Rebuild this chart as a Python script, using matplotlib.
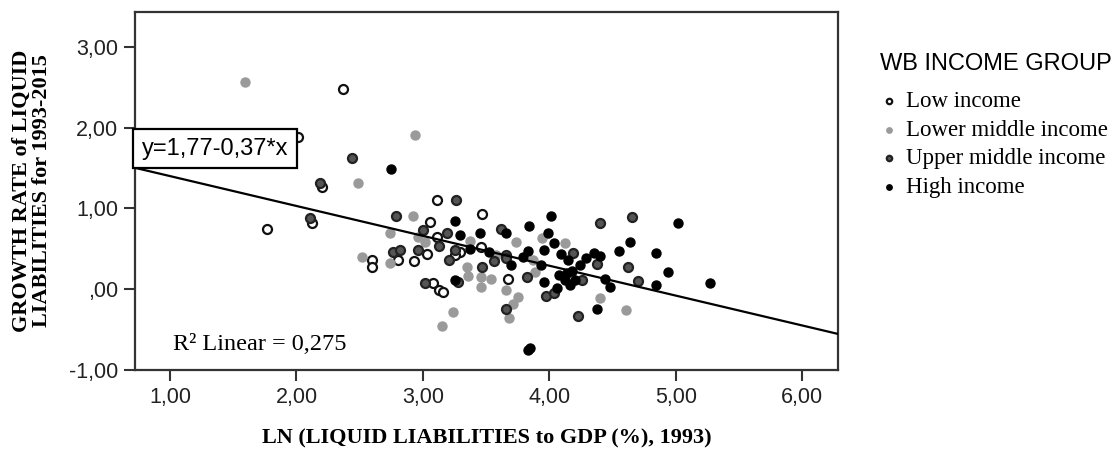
import matplotlib
matplotlib.use("Agg")
import matplotlib.pyplot as plt
from matplotlib.ticker import FuncFormatter, FixedLocator
import numpy as np

# ---- data: (ln liquid liabilities 1993, growth rate 1993-2015) by WB income group ----
low_x = [2.37, 2.01, 1.77, 2.20, 2.12, 2.60, 2.60, 2.80, 2.93, 3.11, 3.06, 3.11,
         3.03, 3.29, 3.46, 3.47, 3.67, 3.25, 3.08, 3.13, 3.16]
low_y = [2.48, 1.88, 0.75, 1.26, 0.82, 0.36, 0.28, 0.36, 0.35, 1.10, 0.83, 0.64,
         0.44, 0.46, 0.52, 0.93, 0.13, 0.42, 0.07, -0.01, -0.04]

lower_mid_x = [1.59, 2.94, 2.49, 2.52, 2.74, 2.74, 2.92, 2.96, 3.37, 3.74, 3.94, 4.12,
               3.87, 3.89, 3.54, 3.46, 3.46, 3.36, 3.35, 3.66, 3.75, 3.71, 3.68, 3.24,
               3.15, 4.40, 4.61, 3.02, 3.58]
lower_mid_y = [2.56, 1.91, 1.32, 0.40, 0.32, 0.70, 0.91, 0.65, 0.60, 0.58, 0.63, 0.57,
               0.36, 0.21, 0.12, 0.15, 0.03, 0.16, 0.27, -0.01, -0.10, -0.18, -0.36, -0.28,
               -0.46, -0.11, -0.26, 0.58, 0.42]

upper_mid_x = [2.44, 2.19, 2.11, 2.79, 2.76, 2.82, 3.00, 3.19, 3.26, 3.62, 3.13, 2.96,
               3.25, 3.56, 3.66, 3.66, 4.19, 4.38, 4.40, 4.65, 4.62, 4.70, 4.26, 4.23,
               3.66, 3.97, 4.04, 3.82, 3.47, 3.28, 3.21, 3.02]
upper_mid_y = [1.62, 1.31, 0.88, 0.90, 0.46, 0.48, 0.73, 0.70, 1.10, 0.75, 0.54, 0.48,
               0.48, 0.35, 0.42, 0.38, 0.45, 0.31, 0.82, 0.89, 0.27, 0.10, 0.11, -0.33,
               -0.24, -0.08, -0.05, 0.15, 0.27, 0.09, 0.36, 0.07]

high_x = [2.75, 3.25, 4.01, 5.02, 3.29, 3.45, 3.66, 3.84, 3.99, 4.04, 3.37, 3.52,
          3.79, 3.83, 3.96, 4.09, 4.15, 4.29, 4.35, 4.40, 4.55, 4.64, 4.84, 4.94,
          5.27, 4.84, 4.44, 4.48, 4.14, 4.08, 4.18, 4.12, 4.20, 4.16, 4.24, 4.38,
          3.83, 3.85, 3.96, 4.06, 3.93, 3.25, 3.70]
high_y = [1.49, 0.85, 0.90, 0.82, 0.67, 0.69, 0.70, 0.78, 0.70, 0.57, 0.50, 0.46,
          0.40, 0.47, 0.49, 0.43, 0.36, 0.38, 0.45, 0.41, 0.47, 0.58, 0.45, 0.21,
          0.08, 0.05, 0.13, 0.03, 0.20, 0.17, 0.23, 0.11, 0.11, 0.05, 0.30, -0.24,
          -0.75, -0.73, 0.09, 0.01, 0.30, 0.11, 0.30]

group_names = ["Low income", "Lower middle income", "Upper middle income", "High income"]

# fitted line and its fit statistic
intercept = 1.77
slope = -0.37
r_squared = 0.275

x_ticks = [1, 2, 3, 4, 5, 6]
y_ticks = [-1, 0, 1, 2, 3]
x_limits = (0.723, 6.28)
y_limits = (-1.0, 3.43)

SANS = "Liberation Sans"
SERIF = "Liberation Serif"


def comma_fmt(v, _pos=None):
    s = f"{v:.2f}".replace(".", ",")
    if s.startswith("0,"):
        s = s[1:]
    return s


fig = plt.figure(figsize=(11.19, 4.5), dpi=100)
ax = fig.add_axes([0.1206, 0.178, 0.628, 0.795])

styles = [
    dict(facecolor="white", edgecolor="#111111", linewidths=1.6),
    dict(facecolor="#9a9a9a", edgecolor="#9a9a9a", linewidths=1.0),
    dict(facecolor="#555555", edgecolor="#222222", linewidths=1.6),
    dict(facecolor="#000000", edgecolor="#000000", linewidths=1.0),
]
series = [(low_x, low_y), (lower_mid_x, lower_mid_y),
          (upper_mid_x, upper_mid_y), (high_x, high_y)]

handles = []
for (xs, ys), st, name in zip(series, styles, group_names):
    h = ax.scatter(xs, ys, s=42, zorder=3, label=name, **st)
    handles.append(h)

ax.set_xlim(*x_limits)
ax.set_ylim(*y_limits)

# regression line across the whole x range
xl = np.array(x_limits)
ax.plot(xl, intercept + slope * xl, color="black", lw=1.6, zorder=4)

# equation box anchored at the line's left end
eq = f"y={intercept:.2f}{slope:+.2f}*x".replace(".", ",")
ax.text(x_limits[0] + 0.055, intercept + slope * x_limits[0] + 0.10, eq,
        fontfamily=SANS, fontsize=17, ha="left", va="bottom", zorder=6,
        bbox=dict(boxstyle="square,pad=0.36", facecolor="white",
                  edgecolor="black", linewidth=1.6))

ax.text(1.02, -0.69, f"R² Linear = {r_squared:.3f}".replace(".", ","),
        fontfamily=SERIF, fontsize=17.5, ha="left", va="center", zorder=6)

ax.xaxis.set_major_locator(FixedLocator(x_ticks))
ax.yaxis.set_major_locator(FixedLocator(y_ticks))
ax.xaxis.set_major_formatter(FuncFormatter(comma_fmt))
ax.yaxis.set_major_formatter(FuncFormatter(comma_fmt))
ax.tick_params(axis="both", direction="out", length=8, width=1.5,
               color="#333333", labelsize=15.5, pad=4)
for lab in ax.get_xticklabels() + ax.get_yticklabels():
    lab.set_fontfamily(SANS)
    lab.set_color("#222222")

for sp in ax.spines.values():
    sp.set_linewidth(1.6)
    sp.set_color("#333333")

ax.set_xlabel("LN (LIQUID LIABILITIES to GDP (%), 1993)", fontfamily=SERIF,
              fontweight="bold", fontsize=16, labelpad=15)
ax.set_ylabel("GROWTH RATE of LIQUID\nLIABILITIES for 1993-2015", fontfamily=SERIF,
              fontweight="bold", fontsize=16, labelpad=12, linespacing=1.05)

# legend title and entries
fig.text(880 / 1119, 1 - 64 / 450, "WB INCOME GROUP", fontfamily=SANS,
         fontsize=17, ha="left", va="center")
leg = fig.legend(handles=handles, labels=group_names, loc="upper left",
                 bbox_to_anchor=(0.786, 0.798), frameon=False,
                 prop=dict(family=SERIF, size=16.5),
                 markerscale=0.6, handletextpad=0.35, labelspacing=0.33,
                 handlelength=0.8, borderaxespad=0, borderpad=0)

fig.savefig("out.png", dpi=100)
